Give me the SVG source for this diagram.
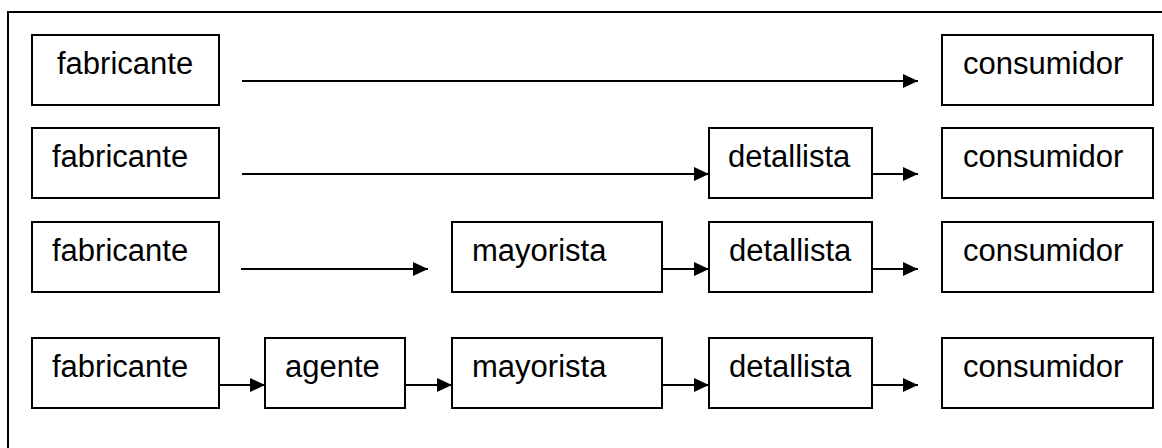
<svg xmlns="http://www.w3.org/2000/svg" width="1162" height="448" viewBox="0 0 1162 448">
  <style>
    .box { fill: #fff; stroke: #000; stroke-width: 2; }
    .lbl { font-family: "Liberation Sans", Arial, sans-serif; font-size: 31px; fill: #000; }
    .edge { stroke: #000; stroke-width: 2; fill: none; }
  </style>
  <defs>
    <marker id="arrow" markerUnits="userSpaceOnUse" markerWidth="16" markerHeight="16" refX="15" refY="7" orient="auto">
      <polygon points="0,0 15,7 0,14" fill="#000"/>
    </marker>
  </defs>
  <rect width="1162" height="448" fill="#fff"/>
  <!-- outer frame (runs off the right and bottom edges) -->
  <rect x="8" y="12" width="1170" height="450" fill="none" stroke="#000" stroke-width="2"/>

  <!-- row 1 -->
  <g id="r1-fabricante"><rect class="box" x="32" y="35" width="187" height="70"/><text class="lbl" x="57" y="74">fabricante</text></g>
  <g id="r1-consumidor"><rect class="box" x="942" y="35" width="211" height="70"/><text class="lbl" x="963" y="74">consumidor</text></g>

  <!-- row 2 -->
  <g id="r2-fabricante"><rect class="box" x="32" y="128" width="187" height="70"/><text class="lbl" x="52" y="167">fabricante</text></g>
  <g id="r2-detallista"><rect class="box" x="709" y="128" width="163" height="70"/><text class="lbl" x="728" y="167">detallista</text></g>
  <g id="r2-consumidor"><rect class="box" x="942" y="128" width="211" height="70"/><text class="lbl" x="963" y="167">consumidor</text></g>

  <!-- row 3 -->
  <g id="r3-fabricante"><rect class="box" x="32" y="222" width="187" height="70"/><text class="lbl" x="52" y="261">fabricante</text></g>
  <g id="r3-mayorista"><rect class="box" x="452" y="222" width="210" height="70"/><text class="lbl" x="472" y="261">mayorista</text></g>
  <g id="r3-detallista"><rect class="box" x="709" y="222" width="163" height="70"/><text class="lbl" x="729" y="261">detallista</text></g>
  <g id="r3-consumidor"><rect class="box" x="942" y="222" width="211" height="70"/><text class="lbl" x="963" y="261">consumidor</text></g>

  <!-- row 4 -->
  <g id="r4-fabricante"><rect class="box" x="32" y="338" width="187" height="70"/><text class="lbl" x="52" y="377">fabricante</text></g>
  <g id="r4-agente"><rect class="box" x="265" y="338" width="140" height="70"/><text class="lbl" x="285" y="377">agente</text></g>
  <g id="r4-mayorista"><rect class="box" x="452" y="338" width="210" height="70"/><text class="lbl" x="472" y="377">mayorista</text></g>
  <g id="r4-detallista"><rect class="box" x="709" y="338" width="163" height="70"/><text class="lbl" x="729" y="377">detallista</text></g>
  <g id="r4-consumidor"><rect class="box" x="942" y="338" width="211" height="70"/><text class="lbl" x="963" y="377">consumidor</text></g>

  <g id="connectors" class="edge" marker-end="url(#arrow)">
    <line x1="242" y1="81" x2="918" y2="81"/>
    <line x1="242" y1="174" x2="709" y2="174"/>
    <line x1="872" y1="174" x2="918" y2="174"/>
    <line x1="241" y1="269" x2="428" y2="269"/>
    <line x1="662" y1="269" x2="709" y2="269"/>
    <line x1="872" y1="269" x2="918" y2="269"/>
    <line x1="219" y1="385" x2="265" y2="385"/>
    <line x1="405" y1="385" x2="452" y2="385"/>
    <line x1="662" y1="385" x2="709" y2="385"/>
    <line x1="872" y1="385" x2="918" y2="385"/>
  </g>
</svg>
